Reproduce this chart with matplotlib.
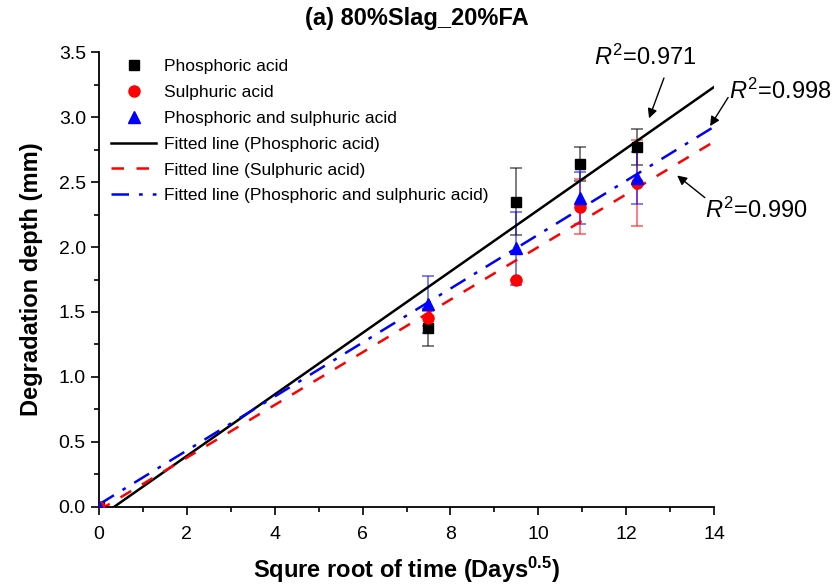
import numpy as np
import matplotlib.pyplot as plt
from matplotlib.ticker import MultipleLocator

plt.rcParams['font.family'] = ['Liberation Sans', 'DejaVu Sans']
plt.rcParams['mathtext.fontset'] = 'custom'
plt.rcParams['mathtext.rm'] = 'Liberation Sans'
plt.rcParams['mathtext.it'] = 'Liberation Sans:italic'
plt.rcParams['mathtext.bf'] = 'Liberation Sans:bold'

# data: sqrt(days) vs degradation depth (mm)
x = [0, 7.48, 9.49, 10.95, 12.25]
phos = [0, 1.38, 2.35, 2.64, 2.77]
phos_err = [0, 0.14, 0.26, 0.13, 0.14]
sulph = [0, 1.45, 1.75, 2.31, 2.49]
sulph_err = [0, 0.06, 0.0, 0.21, 0.33]
mixed = [0, 1.56, 1.99, 2.38, 2.53]
mixed_err = [0, 0.22, 0.28, 0.20, 0.20]

# fitted lines: slope, intercept
fit_phos = (0.2365, -0.08)
fit_sulph = (0.2025, -0.025)
fit_mixed = (0.2075, 0.02)
x_fit = [0, 14]

fig = plt.figure(figsize=(8.33, 5.87), dpi=100)
ax = fig.add_axes([0.1189, 0.1363, 0.7383, 0.7751])

# error bars (lighter), then markers on top
for y, e, c in [(phos, phos_err, (0, 0, 0, 0.55)),
                (sulph, sulph_err, (1, 0, 0, 0.55)),
                (mixed, mixed_err, (0, 0, 1, 0.55))]:
    ax.errorbar(x, y, yerr=e, fmt='none', ecolor=c, elinewidth=1.3,
                capsize=4, capthick=1.3, zorder=2)

ax.plot(x, phos, 's', color='black', ms=7, ls='none', label='Phosphoric acid', zorder=3)
ax.plot(x, sulph, 'o', color='red', ms=8, ls='none', label='Sulphuric acid', zorder=3)
ax.plot(x, mixed, '^', color='blue', ms=9, ls='none',
        label='Phosphoric and sulphuric acid', zorder=3)

def line(fit):
    return [fit[0] * v + fit[1] for v in x_fit]

ax.plot(x_fit, line(fit_phos), color='black', lw=1.8,
        label='Fitted line (Phosphoric acid)')
ax.plot(x_fit, line(fit_sulph), color='red', lw=1.8, ls=(0, (5, 5)),
        label='Fitted line (Sulphuric acid)')
ax.plot(x_fit, line(fit_mixed), color='blue', lw=1.8, ls=(0, (7, 4, 1.5, 4)),
        label='Fitted line (Phosphoric and sulphuric acid)')

ax.set_xlim(0, 14)
ax.set_ylim(0, 3.5)
ax.xaxis.set_major_locator(MultipleLocator(2))
ax.xaxis.set_minor_locator(MultipleLocator(1))
ax.yaxis.set_major_locator(MultipleLocator(0.5))
ax.yaxis.set_minor_locator(MultipleLocator(0.25))
ax.yaxis.set_major_formatter(plt.FormatStrFormatter('%.1f'))
ax.tick_params(which='major', length=6, width=1.2, labelsize=14)
ax.tick_params(which='minor', length=3.5, width=1.2)
ax.tick_params(axis='x', pad=8)
for s in ['top', 'right']:
    ax.spines[s].set_visible(False)
for s in ['left', 'bottom']:
    ax.spines[s].set_linewidth(1.3)

ax.set_xlabel(r'Squre root of time (Days$^{\mathbf{0.5}}$)', fontsize=17,
              fontweight='bold', labelpad=8)
ax.set_ylabel('Degradation depth (mm)', fontsize=17, fontweight='bold', labelpad=11)
fig.text(0.5, 0.968, '(a) 80%Slag_20%FA', fontsize=17, fontweight='bold',
         ha='center', va='center')

ax.legend(loc='upper left', frameon=False, fontsize=12.5, handlelength=2.6,
          labelspacing=0.62, borderaxespad=0.3, handletextpad=0.45,
          bbox_to_anchor=(0.0, 1.012))

# R^2 labels with arrows
arrow = dict(arrowstyle='-|>', color='black', lw=1, mutation_scale=14,
             shrinkA=0, shrinkB=0)
r2_text = ['$R^2$=0.971', '$R^2$=0.998', '$R^2$=0.990']
r2_pos = [(12.43, 3.46), (15.5, 3.2), (14.96, 2.285)]
arrow_tail = [(12.86, 3.30), (14.32, 3.15), (13.79, 2.38)]
arrow_tip = [(12.52, 2.99), (13.91, 2.93), (13.16, 2.55)]
for t, p, a, b in zip(r2_text, r2_pos, arrow_tail, arrow_tip):
    ax.text(p[0], p[1], t, fontsize=17, ha='center', va='center', clip_on=False)
    ax.annotate('', xy=b, xytext=a, arrowprops=arrow, annotation_clip=False)

fig.savefig('out.png', dpi=100)
